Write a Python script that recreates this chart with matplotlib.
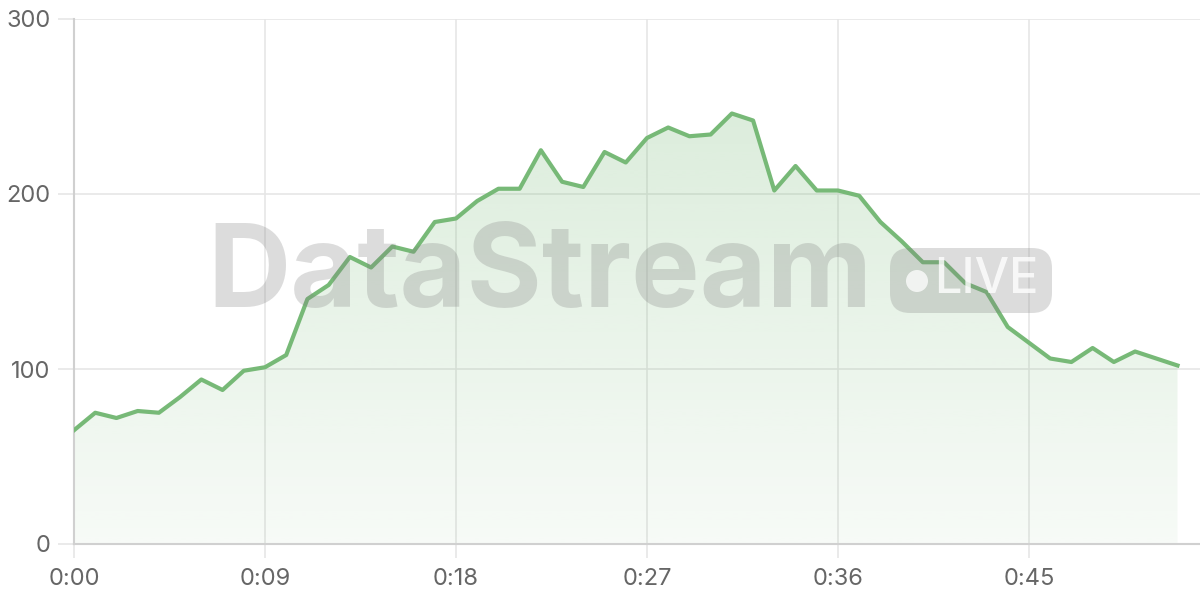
import numpy as np
import matplotlib
matplotlib.use("Agg")
import matplotlib.pyplot as plt
from matplotlib.patches import FancyBboxPatch, Circle
from matplotlib.colors import to_rgb
from matplotlib.transforms import IdentityTransform

minutes = list(range(53))
values = [65, 75, 72, 76, 75, 84, 94, 88, 99, 101, 108, 140, 148, 164, 158, 170, 167,
          184, 186, 196, 203, 203, 225, 207, 204, 224, 218, 232, 238, 233, 234, 246,
          242, 202, 216, 202, 202, 199, 184, 173, 161, 161, 149, 144, 124, 115, 106,
          104, 112, 104, 110, 106, 102]
tick_minutes = [0, 9, 18, 27, 36, 45]
tick_labels = ["0:00", "0:09", "0:18", "0:27", "0:36", "0:45"]
y_ticks = [0, 100, 200, 300]

line_color = "#77b977"
grid_color = "#e6e6e6"
text_color = "#666666"

plt.rcParams['font.family'] = ['Inter', 'DejaVu Sans']

fig = plt.figure(figsize=(12, 6), dpi=100)
ax = fig.add_axes([74/1200, 56/600, 1 - 74/1200, (544-19)/600])

x = np.array(minutes, dtype=float)
y = np.array(values, dtype=float)

# gradient fill
poly = ax.fill_between(x, y, 0, color='none', lw=0)
rgb = np.array(to_rgb(line_color))
n = 256
img = np.zeros((n, 1, 4))
img[:, 0, :3] = rgb
img[:, 0, 3] = np.linspace(0.06, 0.30, n)
im = ax.imshow(img, aspect='auto', origin='lower', extent=[x[0], x[-1], 0, 300],
               zorder=1, interpolation='bilinear')
im.set_clip_path(poly.get_paths()[0], transform=ax.transData)

ax.plot(x, y, color=line_color, lw=3, zorder=4, solid_joinstyle='round')

ax.set_xlim(0, 53.06)
ax.set_ylim(0, 300)
ax.set_xticks(tick_minutes)
ax.set_xticklabels(tick_labels)
ax.set_yticks(y_ticks)
ax.grid(True, color=grid_color, lw=1.2, zorder=0)
ax.set_axisbelow(True)
for s in ['top', 'right']:
    ax.spines[s].set_visible(False)
for s in ['left', 'bottom']:
    ax.spines[s].set_color('#d0d0d0')
    ax.spines[s].set_linewidth(1.5)
ax.tick_params(axis='both', colors=grid_color, width=1.2, labelcolor=text_color,
               labelsize=17)
ax.tick_params(axis='x', length=10, pad=7)
ax.tick_params(axis='y', length=11.5, pad=5.5)

# watermark
wm_gray = '#808080'
wm_alpha = 0.27
fig.text(540/1200, 1 - 277/600, "DataStream", fontsize=83, fontweight='bold',
         color=wm_gray, alpha=wm_alpha, ha='center', va='center', zorder=3,
         family=['Inter', 'DejaVu Sans'])
badge = FancyBboxPatch((890, 600 - 313), 162, 65,
                       boxstyle="round,pad=0,rounding_size=20",
                       transform=IdentityTransform(), facecolor=wm_gray, alpha=wm_alpha,
                       edgecolor='none', zorder=3)
fig.add_artist(badge)
fig.add_artist(Circle((917, 600 - 281), 11, transform=IdentityTransform(),
                      facecolor='white', alpha=0.75, edgecolor='none', zorder=3))
fig.text(986/1200, 1 - 280/600, "LIVE", fontsize=35, fontweight='medium', color='white',
         alpha=0.8, ha='center', va='center', zorder=3, family=['Inter', 'DejaVu Sans'])

fig.savefig("out.png", dpi=100)
